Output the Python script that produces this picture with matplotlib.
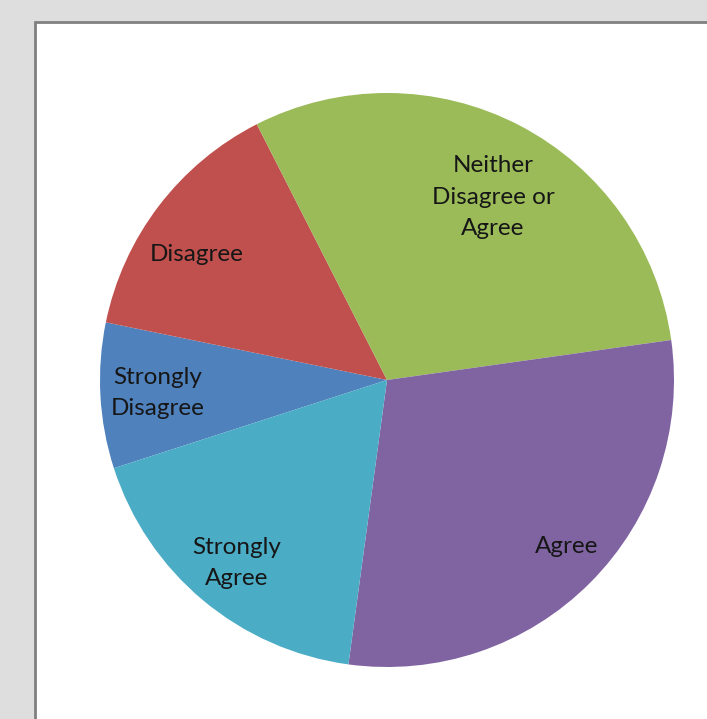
import numpy as np
import matplotlib.pyplot as plt
from matplotlib.patches import Rectangle

# respostas (ordem horaria a partir de "Strongly Disagree")
categorias = ['Strongly\nDisagree', 'Disagree', 'Neither\nDisagree or\nAgree',
              'Agree', 'Strongly\nAgree']
valores = [8.2, 14.3, 30.3, 29.4, 17.9]
cores = ['#4F81BD', '#C0504D', '#9BBB59', '#8064A2', '#4BACC6']
# posicao de cada rotulo: fracao do raio e desvio angular (graus)
dist_rotulo = [0.80, 0.795, 0.737, 0.853, 0.826]
desvio_ang = [0.0, 3.9, -2.6, 1.9, 0.5]

fig = plt.figure(figsize=(7.07, 7.19), dpi=100)
fig.patch.set_facecolor('#DEDEDE')

# area do grafico (branca, com borda cinza)
fig.patches.append(Rectangle((35 / 707, -0.05), 1.0, 1 - 22 / 719 + 0.05,
                             transform=fig.transFigure, facecolor='white',
                             edgecolor='#808080', linewidth=2, zorder=-10))

cx, cy, r = 387 / 707, 1 - 380 / 719, 287
ax = fig.add_axes([cx - r / 707, cy - r / 719, 2 * r / 707, 2 * r / 719])
wedges, textos = ax.pie(valores, labels=categorias, colors=cores,
                        startangle=197.9, counterclock=False,
                        labeldistance=1.0,
                        wedgeprops={'linewidth': 0},
                        textprops={'family': 'Lato', 'fontsize': 17.5,
                                   'color': '#161616'})
for w, t, d, da in zip(wedges, textos, dist_rotulo, desvio_ang):
    ang = np.deg2rad((w.theta1 + w.theta2) / 2 + da)
    t.set_position((d * np.cos(ang), d * np.sin(ang)))
    t.set_horizontalalignment('center')
    t.set_verticalalignment('center')
    t.set_linespacing(1.6)
ax.set_xlim(-1, 1)
ax.set_ylim(-1, 1)
ax.set_aspect('equal')
ax.axis('off')

fig.savefig('out.png', dpi=100, facecolor=fig.get_facecolor())
